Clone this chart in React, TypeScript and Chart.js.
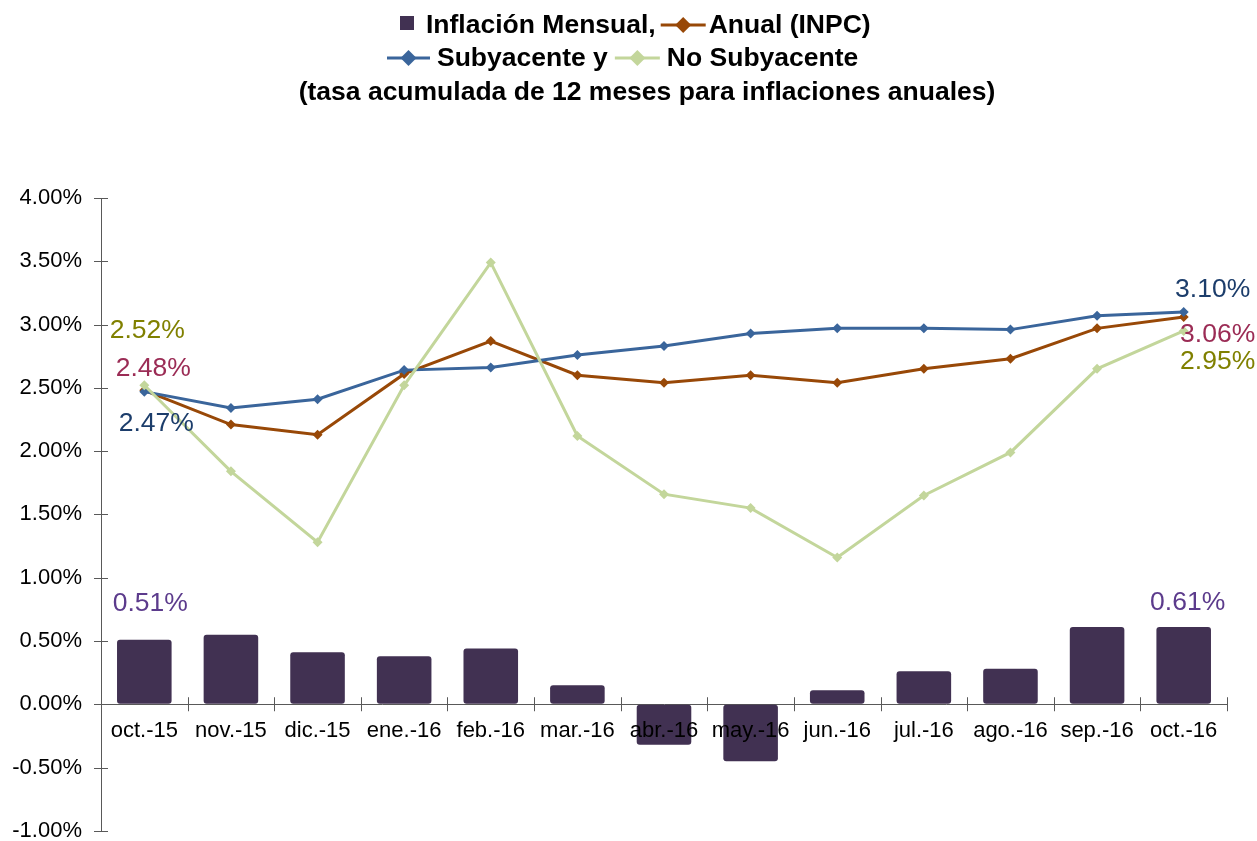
import React, { useEffect, useRef } from "react";
import { Chart, registerables } from "chart.js";

Chart.register(...registerables);

const categories = ["oct.-15", "nov.-15", "dic.-15", "ene.-16", "feb.-16", "mar.-16", "abr.-16", "may.-16", "jun.-16", "jul.-16", "ago.-16", "sep.-16", "oct.-16"];
const mensual = [0.51, 0.55, 0.41, 0.38, 0.44, 0.15, -0.32, -0.45, 0.11, 0.26, 0.28, 0.61, 0.61];
const anualINPC = [2.48, 2.21, 2.13, 2.61, 2.87, 2.6, 2.54, 2.6, 2.54, 2.65, 2.73, 2.97, 3.06];
const subyacente = [2.47, 2.34, 2.41, 2.64, 2.66, 2.76, 2.83, 2.93, 2.97, 2.97, 2.96, 3.07, 3.1];
const noSubyacente = [2.52, 1.84, 1.28, 2.52, 3.49, 2.12, 1.66, 1.55, 1.16, 1.65, 1.99, 2.65, 2.95];
const yMin = -1;
const yMax = 4;
const yStep = 0.5;

const titleLine1a = "Inflación Mensual,";
const titleLine1b = "Anual (INPC)";
const titleLine2a = "Subyacente y";
const titleLine2b = "No Subyacente";
const titleLine3 = "(tasa acumulada de 12 meses para inflaciones anuales)";

const FONT = '"Liberation Sans", Arial, Helvetica, sans-serif';
const BAR = "#413152";
const BROWN = "#984807";
const BLUE = "#3A659B";
const GREEN = "#C3D69B";
const AXIS = "#595959";
const OLIVE = "#808000";
const CRIMSON = "#9B2C55";
const NAVY = "#1C3D6B";
const PURPLE = "#5C3B8C";

// dataset index, point index, offset, colour
const labelSpecs = [
  { ds: 3, idx: 0, dx: 3, dy: -55, color: OLIVE },
  { ds: 1, idx: 0, dx: 9, dy: -22, color: CRIMSON },
  { ds: 2, idx: 0, dx: 12, dy: 32, color: NAVY },
  { ds: 0, idx: 0, dx: 6, dy: -36, color: PURPLE },
  { ds: 2, idx: 12, dx: 29, dy: -22, color: NAVY },
  { ds: 1, idx: 12, dx: 34, dy: 18, color: CRIMSON },
  { ds: 3, idx: 12, dx: 34, dy: 31, color: OLIVE },
  { ds: 0, idx: 12, dx: 4, dy: -24, color: PURPLE },
];

const seriesValues = [mensual, anualINPC, subyacente, noSubyacente];

export default function App() {
  const ref = useRef<HTMLCanvasElement>(null);

  useEffect(() => {
    if (!ref.current) return;

    const lineMarker = (ctx: CanvasRenderingContext2D, x: number, y: number, w: number, color: string) => {
      ctx.strokeStyle = color;
      ctx.lineWidth = 3;
      ctx.beginPath();
      ctx.moveTo(x, y);
      ctx.lineTo(x + w, y);
      ctx.stroke();
      const cx = x + w / 2;
      const r = 8;
      ctx.fillStyle = color;
      ctx.beginPath();
      ctx.moveTo(cx, y - r);
      ctx.lineTo(cx + r, y);
      ctx.lineTo(cx, y + r);
      ctx.lineTo(cx - r, y);
      ctx.closePath();
      ctx.fill();
    };

    const titlePlugin = {
      id: "titleLegend",
      afterDraw(chart: any) {
        const ctx: CanvasRenderingContext2D = chart.ctx;
        ctx.save();
        ctx.font = `bold 26.5px ${FONT}`;
        ctx.textBaseline = "alphabetic";
        ctx.textAlign = "left";
        // line 1
        let x = 400;
        ctx.fillStyle = BAR;
        ctx.fillRect(x, 16, 14, 14);
        x = 426;
        ctx.fillStyle = "#000";
        ctx.fillText(titleLine1a, x, 33);
        x += ctx.measureText(titleLine1a).width + 5;
        lineMarker(ctx, x, 25, 45, BROWN);
        x += 48;
        ctx.fillStyle = "#000";
        ctx.fillText(titleLine1b, x, 33);
        // line 2
        x = 387;
        lineMarker(ctx, x, 58, 43, BLUE);
        x = 437;
        ctx.fillStyle = "#000";
        ctx.fillText(titleLine2a, x, 66);
        x += ctx.measureText(titleLine2a).width + 7;
        lineMarker(ctx, x, 58, 45, GREEN);
        x += 52;
        ctx.fillStyle = "#000";
        ctx.fillText(titleLine2b, x, 66);
        // line 3
        ctx.textAlign = "center";
        ctx.fillText(titleLine3, 647, 100);
        ctx.restore();
      },
    };

    const ticksPlugin = {
      id: "crossTicks",
      afterDatasetsDraw(chart: any) {
        const ctx: CanvasRenderingContext2D = chart.ctx;
        const xs = chart.scales.x;
        const ys = chart.scales.y;
        const y0 = ys.getPixelForValue(0);
        ctx.save();
        ctx.strokeStyle = AXIS;
        ctx.lineWidth = 1;
        ctx.beginPath();
        ys.ticks.forEach((t: any) => {
          const y = Math.round(ys.getPixelForValue(t.value)) + 0.5;
          ctx.moveTo(ys.right - 7, y);
          ctx.lineTo(ys.right + 7, y);
        });
        const n = categories.length;
        for (let i = 0; i <= n; i++) {
          const x = Math.round(xs.left + (i * (xs.right - xs.left)) / n) + 0.5;
          ctx.moveTo(x, y0 - 7);
          ctx.lineTo(x, y0 + 7);
        }
        ctx.stroke();

        ctx.font = `26.5px ${FONT}`;
        ctx.textAlign = "center";
        ctx.textBaseline = "middle";
        labelSpecs.forEach((s) => {
          const el = chart.getDatasetMeta(s.ds).data[s.idx];
          if (!el) return;
          ctx.fillStyle = s.color;
          ctx.fillText(seriesValues[s.ds][s.idx].toFixed(2) + "%", el.x + s.dx, el.y + s.dy);
        });
        ctx.restore();
      },
    };

    const lineDs = (label: string, data: number[], color: string, order: number) => ({
      type: "line" as const,
      label,
      data,
      borderColor: color,
      backgroundColor: color,
      borderWidth: 3,
      pointStyle: "rectRot" as const,
      pointRadius: 5,
      pointBorderWidth: 0,
      pointBackgroundColor: color,
      tension: 0,
      order,
    });

    const chart = new Chart(ref.current, {
      type: "bar",
      data: {
        labels: categories,
        datasets: [
          {
            type: "bar",
            label: "Inflación Mensual",
            data: mensual,
            backgroundColor: BAR,
            borderRadius: 3,
            borderSkipped: false,
            barPercentage: 0.63,
            categoryPercentage: 1,
            order: 10,
          } as any,
          lineDs("Anual (INPC)", anualINPC, BROWN, 3),
          lineDs("Subyacente", subyacente, BLUE, 2),
          lineDs("No Subyacente", noSubyacente, GREEN, 1),
        ],
      },
      options: {
        responsive: false,
        animation: false,
        layout: { padding: { top: 198, right: 30, bottom: 10, left: 0 } },
        plugins: {
          legend: { display: false },
          title: { display: false },
          tooltip: { enabled: false },
        },
        scales: {
          x: {
            position: { y: 0 } as any,
            offset: true,
            grid: { display: true, drawOnChartArea: false, drawTicks: false, offset: true },
            border: { display: true, color: AXIS, width: 1 },
            ticks: {
              z: 1,
              font: { size: 22, family: FONT },
              color: "#000",
              padding: 13,
              maxRotation: 0,
              autoSkip: false,
            },
          },
          y: {
            min: yMin,
            max: yMax,
            grid: { drawOnChartArea: false, drawTicks: false },
            border: { display: true, color: AXIS, width: 1 },
            ticks: {
              stepSize: yStep,
              font: { size: 22, family: FONT },
              color: "#000",
              padding: 19,
              callback: (v: any) => Number(v).toFixed(2) + "%",
            },
            afterFit: (s: any) => {
              s.width = 101;
            },
          },
        },
      },
      plugins: [titlePlugin, ticksPlugin],
    } as any);

    return () => chart.destroy();
  }, []);

  return (
    <div style={{ position: "fixed", left: 0, top: 0, width: 1257, height: 841, overflow: "hidden", background: "#fff" }}>
      <canvas ref={ref} width={1257} height={863} style={{ display: "block" }} />
    </div>
  );
}
